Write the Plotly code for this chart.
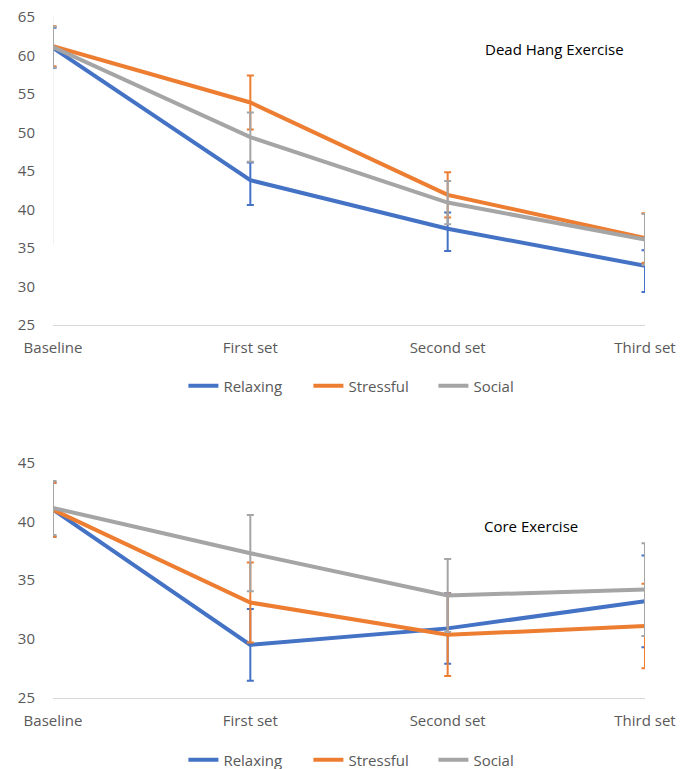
import plotly.graph_objects as go

categories = ["Baseline", "First set", "Second set", "Third set"]
series_names = ["Relaxing", "Stressful", "Social"]
colors = ["#4472C4", "#ED7D31", "#A5A5A5"]

# Dead Hang Exercise
hang_relax = [61.0, 43.8, 37.5, 32.7]
hang_relax_plus = [2.6, 2.3, 2.1, 2.0]
hang_relax_minus = [2.6, 3.2, 2.9, 3.4]
hang_stress = [61.2, 53.9, 41.9, 36.3]
hang_stress_err = [2.6, 3.5, 2.95, 3.2]
hang_social = [61.1, 49.4, 40.9, 36.1]
hang_social_err = [2.65, 3.2, 2.8, 3.3]

# Core Exercise
core_relax = [41.0, 29.5, 30.9, 33.2]
core_relax_err = [2.3, 3.05, 3.0, 3.9]
core_stress = [41.0, 33.1, 30.35, 31.1]
core_stress_err = [2.3, 3.4, 3.5, 3.6]
core_social = [41.15, 37.3, 33.7, 34.2]
core_social_err = [2.3, 3.25, 3.1, 3.95]

x_idx = list(range(len(categories)))
FONT = "Open Sans"
TICKC = "#595959"
FS = 15

fig = go.Figure()

top = [
    (hang_relax, hang_relax_plus, hang_relax_minus),
    (hang_stress, hang_stress_err, hang_stress_err),
    (hang_social, hang_social_err, hang_social_err),
]
bot = [
    (core_relax, core_relax_err, core_relax_err),
    (core_stress, core_stress_err, core_stress_err),
    (core_social, core_social_err, core_social_err),
]

for i, (vals, ep, em) in enumerate(top):
    fig.add_trace(go.Scatter(
        x=x_idx, y=vals, mode="lines", name=series_names[i],
        line=dict(color=colors[i], width=4),
        error_y=dict(type="data", array=ep, arrayminus=em, symmetric=False,
                     color=colors[i], thickness=2, width=3.5),
        xaxis="x", yaxis="y", legend="legend", cliponaxis=False))

for i, (vals, ep, em) in enumerate(bot):
    fig.add_trace(go.Scatter(
        x=x_idx, y=vals, mode="lines", name=series_names[i],
        line=dict(color=colors[i], width=4),
        error_y=dict(type="data", array=ep, arrayminus=em, symmetric=False,
                     color=colors[i], thickness=2, width=3.5),
        xaxis="x2", yaxis="y2", legend="legend2", cliponaxis=False))

xcommon = dict(
    tickmode="array", tickvals=x_idx, ticktext=categories,
    range=[0, 3], showgrid=False, zeroline=False, automargin=False,
    showline=True, linecolor="#D9D9D9", linewidth=1,
    ticks="outside", ticklen=9, tickcolor="rgba(0,0,0,0)",
    tickfont=dict(family=FONT, size=FS, color=TICKC),
)
ycommon = dict(
    showgrid=False, zeroline=False, showline=False, automargin=False,
    tickmode="linear", dtick=5,
    ticks="outside", ticklen=14, tickcolor="rgba(0,0,0,0)",
    tickfont=dict(family=FONT, size=FS, color=TICKC),
)

legend_common = dict(
    orientation="h", x=0.537, xanchor="center", yanchor="middle", yref="container",
    font=dict(family=FONT, size=FS, color=TICKC), itemwidth=30,
    entrywidth=80, entrywidthmode="pixels", bgcolor="rgba(0,0,0,0)",
)

H = 769.0
fig.update_layout(
    width=693, height=769,
    margin=dict(l=53, r=48, t=0, b=0, autoexpand=False),
    paper_bgcolor="white", plot_bgcolor="white",
    xaxis=dict(**xcommon, anchor="y"),
    yaxis=dict(**ycommon, range=[25, 65], domain=[1 - 325 / H, 1 - 17 / H], anchor="x"),
    xaxis2=dict(**xcommon, anchor="y2"),
    yaxis2=dict(**ycommon, range=[25, 45], domain=[1 - 697.7 / H, 1 - 462.7 / H], anchor="x2"),
    legend=dict(**legend_common, y=1 - 386 / H),
    legend2=dict(**legend_common, y=1 - 760 / H),
    annotations=[
        dict(text="Dead Hang Exercise", xref="x", yref="y", x=2.54, y=60.9,
             showarrow=False, font=dict(family=FONT, size=FS, color="#000000")),
        dict(text="Core Exercise", xref="x2", yref="y2", x=2.42, y=39.6,
             showarrow=False, font=dict(family=FONT, size=FS, color="#000000")),
    ],
    shapes=[
        dict(type="line", xref="x", yref="y", x0=0, x1=0, y0=35.4, y1=65,
             line=dict(color="#E6E6E6", width=1), layer="below"),
    ],
)

fig.write_html("out.html", post_script="document.body.style.margin='0';",
               config={"displayModeBar": False})
